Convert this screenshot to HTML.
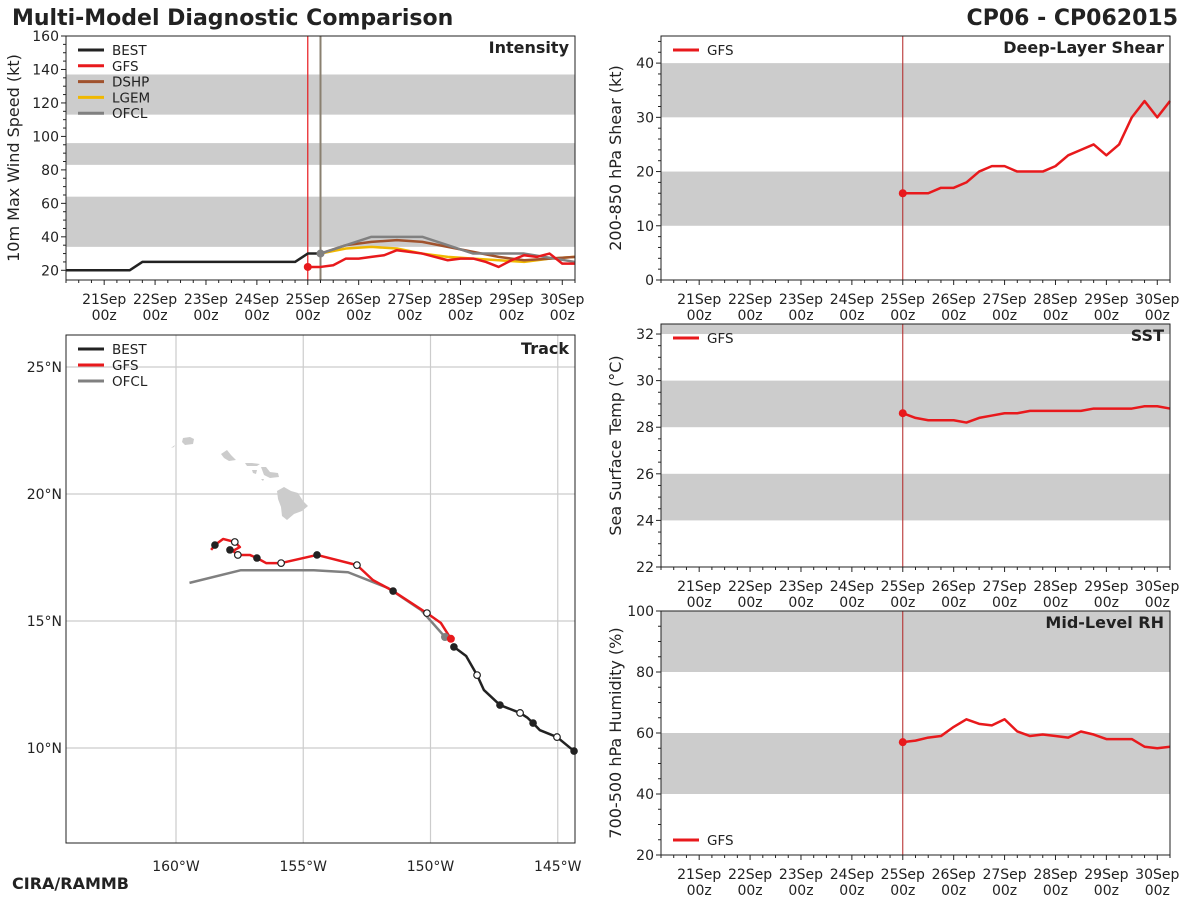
<!DOCTYPE html>
<html><head><meta charset="utf-8"><style>
body{margin:0;background:#fff;}
svg{display:block;font-family:"DejaVu Sans","Liberation Sans",sans-serif;}
</style></head><body>
<svg id="c" width="1200" height="900" xmlns="http://www.w3.org/2000/svg">
<text x="12" y="25" font-size="22" font-weight="bold" fill="#222">Multi-Model Diagnostic Comparison</text>
<text x="1178" y="25" font-size="22" font-weight="bold" fill="#222" text-anchor="end">CP06 - CP062015</text>
<text x="12" y="889" font-size="16" font-weight="bold" fill="#222">CIRA/RAMMB</text>
</svg>
<script>
// ---- data ----
const dayLabels = ["21Sep","22Sep","23Sep","24Sep","25Sep","26Sep","27Sep","28Sep","29Sep","30Sep"];
const bestT = [20.25,21.5,21.75,24.75,25.0,25.25];
const bestV = [20,20,25,25,30,30];
const gfsT6 = [25.0,25.25,25.5,25.75,26.0,26.25,26.5,26.75,27.0,27.25,27.5,27.75,28.0,28.25,28.5,28.75,29.0,29.25,29.5,29.75,30.0,30.25];
const gfsV = [22,22,23,27,27,28,29,32,31,30,28,26,27,27,25,22,26,29,28,30,24,24];
const fcT12 = [25.25,25.75,26.25,26.75,27.25,27.75,28.25,28.75,29.25,29.75,30.25];
const dshpV = [30,35,37,38,37,34,31,28,26,27,28];
const lgemV = [30,33,34,33,30,28,27,26,25,27,28];
const ofclT = [25.25,25.75,26.25,26.75,27.25,28.25,29.25,30.25];
const ofclV = [30,35,40,40,40,30,30,25];
const shearV = [16,16,16,17,17,18,20,21,21,20,20,20,21,23,24,25,23,25,30,33,30,33];
const sstV = [28.6,28.4,28.3,28.3,28.3,28.2,28.4,28.5,28.6,28.6,28.7,28.7,28.7,28.7,28.7,28.8,28.8,28.8,28.8,28.9,28.9,28.8];
const rhV = [57,57.5,58.5,59,62,64.5,63,62.5,64.5,60.5,59,59.5,59,58.5,60.5,59.5,58,58,58,55.5,55,55.5];
const bestLon = [149.08,148.6,148.17,147.9,147.27,146.48,146.2,145.97,145.7,145.03,144.36];
const bestLat = [13.98,13.62,12.87,12.28,11.69,11.38,11.2,10.98,10.7,10.43,9.88];
const gfsLon = [149.2,149.59,150.14,151.47,152.26,152.89,154.46,155.87,156.46,156.82,157.1,157.57,157.76,157.49,157.69,158.15,158.47,158.62];
const gfsLat = [14.3,14.92,15.31,16.18,16.61,17.2,17.6,17.28,17.28,17.48,17.6,17.6,17.76,17.91,18.11,18.23,17.99,17.8];
const gfsFilledLon = [158.47,157.88,156.82,154.46,151.47];
const gfsFilledLat = [17.99,17.8,17.48,17.6,16.18];
const gfsOpenLon = [157.69,157.57,155.87,152.89,150.14];
const gfsOpenLat = [18.11,17.6,17.28,17.2,15.31];
const bestOpenLon = [148.17,146.48,145.03];
const bestOpenLat = [12.87,11.38,10.43];
const bestFilledLon = [149.08,147.27,145.97,144.36];
const bestFilledLat = [13.98,11.69,10.98,9.88];
const ofclLon = [159.47,157.45,154.58,153.24,151.67,150.37,149.43];
const ofclLat = [16.5,17.0,17.0,16.92,16.3,15.43,14.37];

const NS="http://www.w3.org/2000/svg";
const svg=document.getElementById('c');
function mk(tag,attrs,parent){const e=document.createElementNS(NS,tag);for(const k in attrs)e.setAttribute(k,attrs[k]);(parent||svg).appendChild(e);return e;}
function txt(s,attrs){const e=mk('text',attrs);e.textContent=s;return e;}
function pts(xs,ys,fx,fy){return xs.map((v,i)=>fx(v)+','+fy(ys[i])).join(' ');}

function timePanel(o){
  const {x0,x1,y0,y1,vmin,vmax}=o;
  const fx=t=>x0+(t-20.25)/10*(x1-x0);
  const fy=v=>y1-(v-vmin)/(vmax-vmin)*(y1-y0);
  const g=mk('g',{});
  
  
  o.bands.forEach(b=>{
    const r=mk('rect',{x:x0,y:fy(Math.min(b[1],vmax)),width:x1-x0,height:fy(b[0])-fy(Math.min(b[1],vmax)),fill:'#cccccc'},g);
    
    
  });
  for(let v=o.tick0;v<=vmax+0.001;v+=o.minor){
    const maj=Math.abs((v-o.tick0)/o.major-Math.round((v-o.tick0)/o.major))<1e-6;
    mk('line',{x1:x0,x2:x0-(maj?5:3),y1:fy(v),y2:fy(v),stroke:'#222','stroke-width':1},g);
    if(maj){const t=txt(String(Math.round(v)),{x:x0-7,y:fy(v)+5,'font-size':14,'text-anchor':'end',fill:'#222'});}
  }
  for(let t=20.25;t<=30.25+1e-6;t+=0.25){
    const maj=Math.abs(t-Math.round(t))<1e-6;
    mk('line',{x1:fx(t),x2:fx(t),y1:y1,y2:y1+(maj?5:3),stroke:'#222','stroke-width':1},g);
  }
  dayLabels.forEach((d,i)=>{
    const x=fx(21+i);
    const a=txt(d,{x:x,y:y1+24,'font-size':14,'text-anchor':'middle',fill:'#222'});
    
    const b=txt('00z',{x:x,y:y1+40,'font-size':14,'text-anchor':'middle',fill:'#222'});
    
  });
  const yl=txt(o.ylabel,{x:0,y:0,'font-size':16,'text-anchor':'middle',fill:'#222',transform:`translate(${o.ylx},${(y0+y1)/2}) rotate(-90)`});
  
  const tl=txt(o.title,{x:x1-6,y:y0+17,'font-size':16,'font-weight':'bold','text-anchor':'end',fill:'#222'});
  
  return {fx,fy,g,frame:()=>{const f=mk('rect',{x:x0,y:y0,width:x1-x0,height:y1-y0,fill:'none',stroke:'#222','stroke-width':1});}};
}
function series(p,xs,ys,color,name,w){
  const l=mk('polyline',{points:pts(xs,ys,p.fx,p.fy),fill:'none',stroke:color,'stroke-width':w||2.5,'stroke-linejoin':'round'});
  
  
  return l;
}
function dot(x,y,r,fill,stroke,name){
  const c=mk('circle',{cx:x,cy:y,r:r,fill:fill,stroke:stroke||'none','stroke-width':1.2});
  
  
}
function legend(x,y,items,dy){
  items.forEach((it,i)=>{
    const yy=y+i*dy;
    const l=mk('line',{x1:x,x2:x+26,y1:yy,y2:yy,stroke:it[1],'stroke-width':3});
    
    const t=txt(it[0],{x:x+34,y:yy+5,'font-size':13.5,fill:'#222'});
    
  });
}
const RED='#e8191c',BRN='#a0522d',YEL='#f0b800',GRY='#808080',BLK='#222';

const pi=timePanel({name:'intensity',x0:66,x1:575,y0:36,y1:280,vmin:14.2,vmax:160,tick0:20,major:20,minor:5,ylx:19,
  bands:[[34,64],[83,96],[113,137]],ylabel:'10m Max Wind Speed (kt)',title:'Intensity'});
mk('line',{x1:pi.fx(25),x2:pi.fx(25),y1:36,y2:280,stroke:RED,'stroke-width':1.2});
mk('line',{x1:pi.fx(25.25),x2:pi.fx(25.25),y1:36,y2:280,stroke:'#8a8070','stroke-width':2});
series(pi,bestT,bestV,BLK,'best-line');
series(pi,fcT12,lgemV,YEL,'lgem-line');
series(pi,fcT12,dshpV,BRN,'dshp-line');
series(pi,ofclT,ofclV,GRY,'ofcl-line');
series(pi,gfsT6,gfsV,RED,'gfs-line');
dot(pi.fx(gfsT6[0]),pi.fy(gfsV[0]),4,RED,null,'gfs-start-point');
dot(pi.fx(ofclT[0]),pi.fy(ofclV[0]),4,GRY,null,'ofcl-start-point');
pi.frame();
legend(78,50,[['BEST',BLK],['GFS',RED],['DSHP',BRN],['LGEM',YEL],['OFCL',GRY]],15.8);

const ps=timePanel({name:'shear',x0:661,x1:1170,y0:36,y1:280,vmin:0,vmax:45,tick0:0,major:10,minor:2,ylx:621,
  bands:[[10,20],[30,40]],ylabel:'200-850 hPa Shear (kt)',title:'Deep-Layer Shear'});
mk('line',{x1:ps.fx(25),x2:ps.fx(25),y1:36,y2:280,stroke:'#b22222','stroke-width':1});
series(ps,gfsT6,shearV,RED,'gfs-shear-line');
dot(ps.fx(25),ps.fy(shearV[0]),4,RED,null,'gfs-shear-start');
ps.frame();
legend(673,50,[['GFS',RED]],16);

const pt=timePanel({name:'sst',x0:661,x1:1170,y0:324,y1:567,vmin:22,vmax:32.43,tick0:22,major:2,minor:0.5,ylx:621,
  bands:[[24,26],[28,30],[32,33]],ylabel:'Sea Surface Temp (°C)',title:'SST'});
mk('line',{x1:pt.fx(25),x2:pt.fx(25),y1:324,y2:567,stroke:'#b22222','stroke-width':1});
series(pt,gfsT6,sstV,RED,'gfs-sst-line');
dot(pt.fx(25),pt.fy(sstV[0]),4,RED,null,'gfs-sst-start');
pt.frame();
legend(673,338,[['GFS',RED]],16);

const pr=timePanel({name:'rh',x0:661,x1:1170,y0:611,y1:855,vmin:20,vmax:100,tick0:20,major:20,minor:5,ylx:621,
  bands:[[40,60],[80,100]],ylabel:'700-500 hPa Humidity (%)',title:'Mid-Level RH'});
mk('line',{x1:pr.fx(25),x2:pr.fx(25),y1:611,y2:855,stroke:'#b22222','stroke-width':1});
series(pr,gfsT6,rhV,RED,'gfs-rh-line');
dot(pr.fx(25),pr.fy(rhV[0]),4,RED,null,'gfs-rh-start');
pr.frame();
legend(673,840,[['GFS',RED]],16);

(function(){
  const x0=66,x1=575,y0=335,y1=843;
  const fx=lon=>176+(160-lon)*25.45;
  const fy=lat=>494-(lat-20)*25.4;
  const g=mk('g',{});
  
  
  [160,155,150,145].forEach(l=>{
    mk('line',{x1:fx(l),x2:fx(l),y1:y0,y2:y1,stroke:'#cccccc','stroke-width':1.2},g);
    const t=txt(l+'°W',{x:fx(l),y:871,'font-size':14,'text-anchor':'middle',fill:'#222'});
    
  });
  [25,20,15,10].forEach(l=>{
    mk('line',{x1:x0,x2:x1,y1:fy(l),y2:fy(l),stroke:'#cccccc','stroke-width':1.2},g);
    const t=txt(l+'°N',{x:62,y:fy(l)+5,'font-size':14,'text-anchor':'end',fill:'#222'});
    
  });
  const isl=[
    "M171,448 L175,445 L174,447Z",
    "M183,438 L190,437 L194,439 L193,444 L185,445 L182,442Z",
    "M221,454 L227,450 L231,455 L236,460 L229,461 L224,458Z",
    "M245,463 L252,463 L260,464 L257,466 L247,466Z",
    "M252,470 L257,470 L256,474 L253,473Z",
    "M261,467 L266,467 L270,472 L278,473 L279,477 L270,478 L264,475Z",
    "M261,479 L264,479 L263,481Z",
    "M277,491 L284,487 L291,491 L298,493 L303,501 L308,506 L302,511 L294,514 L287,520 L282,516 L281,507 L278,499Z"];
  isl.forEach(d=>{const p=mk('path',{d:d,fill:'#cccccc'},g);});
  const t=txt('Track',{x:x1-6,y:y0+19,'font-size':16,'font-weight':'bold','text-anchor':'end',fill:'#222'});
  
  const P={fx,fy};
  series(P,ofclLon,ofclLat,GRY,'ofcl-track');
  series(P,gfsLon,gfsLat,RED,'gfs-track');
  series(P,bestLon,bestLat,BLK,'best-track');
  dot(fx(ofclLon[ofclLon.length-1]),fy(ofclLat[ofclLat.length-1]),4,GRY,null,'ofcl-track-start');
  dot(fx(gfsLon[0]),fy(gfsLat[0]),4,RED,null,'gfs-track-start');
  gfsFilledLon.forEach((v,i)=>dot(fx(v),fy(gfsFilledLat[i]),3.8,BLK,null,'track-marker-00z'));
  gfsOpenLon.forEach((v,i)=>dot(fx(v),fy(gfsOpenLat[i]),3.3,'#fff',BLK,'track-marker-12z'));
  bestFilledLon.forEach((v,i)=>dot(fx(v),fy(bestFilledLat[i]),3.8,BLK,null,'track-marker-00z'));
  bestOpenLon.forEach((v,i)=>dot(fx(v),fy(bestOpenLat[i]),3.3,'#fff',BLK,'track-marker-12z'));
  const f=mk('rect',{x:x0,y:y0,width:x1-x0,height:y1-y0,fill:'none',stroke:'#222','stroke-width':1});
  
  legend(78,349,[['BEST',BLK],['GFS',RED],['OFCL',GRY]],16);
})();
</script>
</body></html>
